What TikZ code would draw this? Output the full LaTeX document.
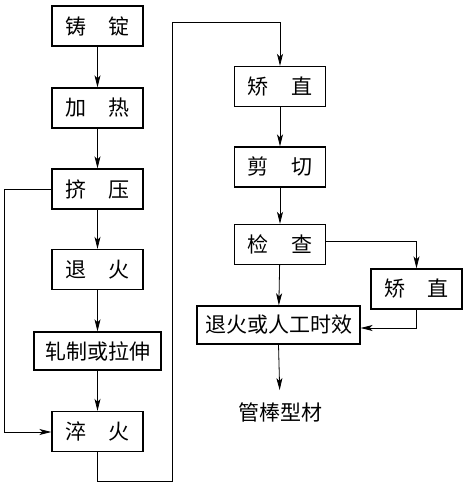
\documentclass[tikz,border=0pt]{standalone}
\usepackage{fontspec}
\setmainfont{Noto Sans CJK SC}
\usepackage{tikz}
\usetikzlibrary{arrows.meta}
\tikzstyle{box}=[draw=black,line width=1.4pt,inner sep=0pt,minimum width=91pt,minimum height=40pt,font=\fontsize{21}{24}\selectfont]
\tikzstyle{wide}=[box,minimum width=127pt,minimum height=38pt]
\tikzstyle{widest}=[box,minimum width=163pt,minimum height=38pt]
\tikzstyle{none}=[inner sep=0pt,font=\fontsize{21}{24}\selectfont]
\tikzstyle{flow}=[-{Stealth[length=12pt,width=6pt,inset=3pt]},draw=black,line width=0.8pt]
\tikzstyle{simple}=[-,draw=black,line width=0.8pt]

\begin{document}
\begin{tikzpicture}[x=1pt,y=-1pt]
  \useasboundingbox (0,0) rectangle (470,486);
  \node [style=box] (0) at (97.5, 26) {铸\hspace{1.05em}锭};
  \node [style=box] (1) at (97.5, 108) {加\hspace{1.05em}热};
  \node [style=box] (2) at (97.5, 189) {挤\hspace{1.05em}压};
  \node [style=box] (3) at (97.5, 269.5) {退\hspace{1.05em}火};
  \node [style=wide] (4) at (97.5, 351) {轧制或拉伸};
  \node [style=box] (5) at (97.5, 431.5) {淬\hspace{1.05em}火};
  \node [style=box] (6) at (280, 86.5) {矫\hspace{1.05em}直};
  \node [style=box] (7) at (280, 167) {剪\hspace{1.05em}切};
  \node [style=box] (8) at (280, 244.5) {检\hspace{1.05em}查};
  \node [style=box] (9) at (416.5, 289) {矫\hspace{1.05em}直};
  \node [style=widest] (10) at (278.5, 325) {退火或人工时效};
  \node [style=none] (11) at (280, 412) {管棒型材};
  \coordinate (12) at (4, 189);
  \coordinate (13) at (4, 432);
  \coordinate (14) at (97.5, 481);
  \coordinate (15) at (172, 481);
  \coordinate (16) at (172, 22);
  \coordinate (17) at (280, 22);
  \coordinate (18) at (416.5, 241);
  \coordinate (19) at (416.5, 328);
  \draw [style=flow] (0) to (1);
  \draw [style=flow] (1) to (2);
  \draw [style=flow] (2) to (3);
  \draw [style=flow] (3) to (4);
  \draw [style=flow] (4) to (5);
  \draw [style=flow] (2.west) -- (12) -- (13) -- (13 -| 5.west);
  \draw [style=flow] (5.south) -- (14) -- (15) -- (16) -- (17) -- (6.north);
  \draw [style=flow] (6) to (7);
  \draw [style=flow] (7) to (8);
  \draw [style=flow] (8.east |- 18) -- (18) -- (9.north);
  \draw [style=flow] (8) to (10);
  \draw [style=flow] (9.south) -- (19) -- (19 -| 10.east);
  \draw [style=flow,shorten >=12pt] (10.south) -- (11.north);
\end{tikzpicture}
\end{document}
